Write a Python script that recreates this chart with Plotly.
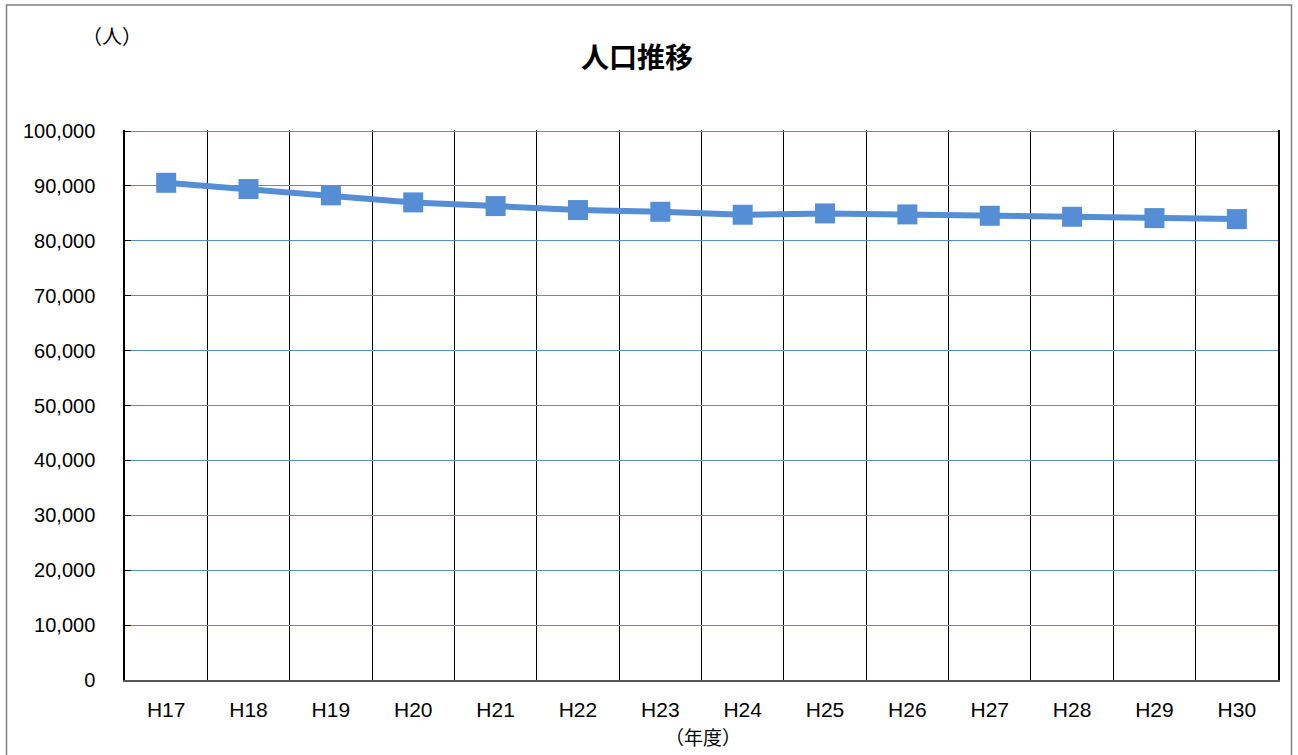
import plotly.graph_objects as go

# 年度ラベルと人口（人）
years = ["H17", "H18", "H19", "H20", "H21", "H22", "H23",
         "H24", "H25", "H26", "H27", "H28", "H29", "H30"]
population = [90580, 89440, 88290, 87010, 86340, 85610, 85300,
              84760, 85000, 84820, 84570, 84390, 84150, 83970]

y_ticks = list(range(0, 100001, 10000))

W, H = 1298, 755
L, R, T, B = 125, 20, 130, 75
plot_w = W - L - R
plot_h = H - T - B

line_color = "rgb(85,142,213)"
jp_font = "Noto Sans CJK JP"
num_font = "Liberation Sans, Arial, sans-serif"

fig = go.Figure()
fig.add_trace(go.Scatter(
    x=years,
    y=population,
    mode="lines+markers",
    line=dict(color=line_color, width=6),
    marker=dict(symbol="square", size=20, color=line_color,
                line=dict(width=0)),
    hoverinfo="x+y",
    showlegend=False,
))

fig.update_layout(
    width=W,
    height=H,
    margin=dict(l=L, r=R, t=T, b=B),
    paper_bgcolor="white",
    plot_bgcolor="white",
    separators=".,",
    title=dict(
        text="人口推移",
        font=dict(family=jp_font, size=28, color="black", weight="bold"),
        xref="container", yref="container",
        x=637 / W, xanchor="center",
        y=1 - 58 / H, yanchor="middle",
    ),
    xaxis=dict(
        type="category",
        range=[-0.5, len(years) - 0.5],
        tickson="boundaries",
        showgrid=True,
        gridcolor="black",
        gridwidth=1,
        showline=True,
        linecolor="#555555",
        linewidth=2,
        ticks="",
        tickfont=dict(family=num_font, size=21, color="black"),
        ticklabelstandoff=10,
        mirror=False,
        zeroline=False,
    ),
    yaxis=dict(
        # a little headroom so the 100,000 grid line is drawn
        range=[0, 100200],
        tickvals=y_ticks,
        tickformat=",d",
        showgrid=True,
        gridcolor=line_color,
        gridwidth=1,
        showline=True,
        linecolor="black",
        linewidth=1.5,
        mirror=True,
        ticks="inside",
        ticklen=6,
        tickcolor="black",
        tickfont=dict(family=num_font, size=20, color="black"),
        ticklabelstandoff=24,
        zeroline=False,
    ),
    annotations=[
        dict(text="（人）", xref="paper", yref="paper",
             x=(112 - L) / plot_w, y=(H - B - 35) / plot_h,
             xanchor="center", yanchor="middle", showarrow=False,
             font=dict(family=jp_font, size=20, color="black")),
        dict(text="（年度）", xref="paper", yref="paper",
             x=(703 - L) / plot_w, y=(H - B - 736) / plot_h,
             xanchor="center", yanchor="middle", showarrow=False,
             font=dict(family=jp_font, size=19, color="black")),
    ],
    shapes=[
        dict(type="rect", xref="paper", yref="paper",
             x0=(6.5 - L) / plot_w, x1=(1291.5 - L) / plot_w,
             y0=(H - B - 800) / plot_h, y1=(H - B - 5) / plot_h,
             line=dict(color="#7f7f7f", width=1.5),
             fillcolor="rgba(0,0,0,0)", layer="below"),
    ],
)

fig.write_html("out.html")
